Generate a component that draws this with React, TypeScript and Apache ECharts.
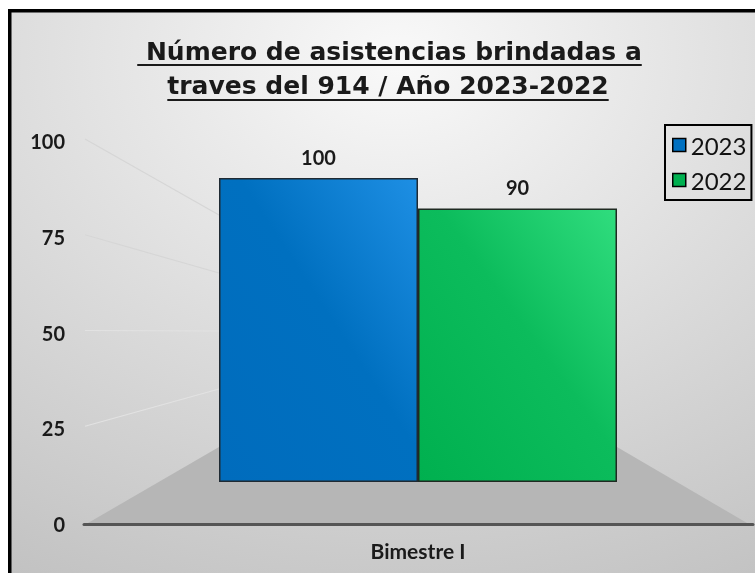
import React, { useEffect, useRef } from 'react';
import * as echarts from 'echarts';

const categories = ['Bimestre I'];
const seriesNames = ['2023', '2022'];
const values2023 = [100];
const values2022 = [90];
const yTicks = [0, 25, 50, 75, 100];
const titleLines = [' Número de asistencias brindadas a', 'traves del 914 / Año 2023-2022'];

const W = 755;
const H = 573;
const FONT = 'Lato, "Open Sans", sans-serif';
const TITLE_FONT_FAMILY = '"DejaVu Sans", Lato, sans-serif';

// geometry
const AX_LEFT = 84;
const AX_RIGHT = 753;
const AX_TOP = 141;
const AX_BOTTOM = 524;
const BAR_LEFT = 219;
const BAR_RIGHT = 617;
const BAR_TOP = 178;
const BAR_BOTTOM = 482;
const FLOOR_BACK = 447;
const SIDE_TOP = 215;

function measure(text: string, font: string): number {
  const c = document.createElement('canvas');
  const ctx = c.getContext('2d');
  if (!ctx) return text.length * 14;
  ctx.font = font;
  return ctx.measureText(text).width;
}

export default function App() {
  const ref = useRef<HTMLDivElement>(null);
  useEffect(() => {
    if (!ref.current) return;
    const chart = echarts.init(ref.current, undefined, { renderer: 'svg' });
    const yMax = yTicks[yTicks.length - 1];
    const frontY = (v: number) => AX_BOTTOM - (v / yMax) * (AX_BOTTOM - AX_TOP);
    const sideY = (v: number) => FLOOR_BACK - (v / yMax) * (FLOOR_BACK - SIDE_TOP);

    const titleFont = `bold 25px ${TITLE_FONT_FAMILY}`;
    const titleCenters = [389.5, 388];
    const titleYs = [51, 85];
    const underlineYs = [65, 100];

    const graphics: any[] = [
      {
        type: 'rect', z: -100, silent: true,
        shape: { x: 9.75, y: 10.75, width: W + 20, height: H + 20 },
        style: {
          fill: new echarts.graphic.RadialGradient(0.5, 0.08, 1.0, [
            { offset: 0, color: '#f9f9f9' },
            { offset: 0.5, color: '#dddddd' },
            { offset: 1, color: '#c2c2c2' },
          ]),
          stroke: '#000', lineWidth: 3.5,
        },
      },
      {
        type: 'polygon', z: -50, silent: true,
        shape: { points: [[AX_LEFT + 4, AX_BOTTOM - 1], [BAR_LEFT, FLOOR_BACK], [BAR_RIGHT, FLOOR_BACK], [AX_RIGHT - 6, AX_BOTTOM - 1]] },
        style: { fill: '#b6b6b6' },
      },
    ];
    yTicks.filter((v) => v > 0).forEach((v) => {
      graphics.push({
        type: 'line', z: -40, silent: true,
        shape: { x1: AX_LEFT + 1, y1: frontY(v) - 2, x2: BAR_LEFT, y2: sideY(v) },
        style: { stroke: v >= 75 ? '#d6d6d6' : '#e2e2e2', lineWidth: 1.2 },
      });
    });
    titleLines.forEach((t, i) => {
      const w = measure(t, titleFont);
      graphics.push({
        type: 'text', z: 100,
        style: {
          text: t, x: titleCenters[i], y: titleYs[i], font: titleFont,
          textAlign: 'center', textVerticalAlign: 'middle', fill: '#1a1a1a',
        },
      });
      graphics.push({
        type: 'line', z: 100, silent: true,
        shape: { x1: titleCenters[i] - w / 2, y1: underlineYs[i], x2: titleCenters[i] + w / 2, y2: underlineYs[i] },
        style: { stroke: '#1a1a1a', lineWidth: 2 },
      });
    });

    const blue = new echarts.graphic.LinearGradient(0, 1, 1, 0, [
      { offset: 0, color: '#006cbd' },
      { offset: 0.55, color: '#0070c0' },
      { offset: 1, color: '#1e8fe4' },
    ]);
    const green = new echarts.graphic.LinearGradient(0, 1, 1, 0, [
      { offset: 0, color: '#00b04f' },
      { offset: 0.55, color: '#0cbc5c' },
      { offset: 1, color: '#30dd7e' },
    ]);
    const labelStyle = {
      show: true, position: 'top', distance: 11, fontSize: 20, fontWeight: 'bold',
      color: '#1a1a1a', fontFamily: FONT,
    };

    chart.setOption({
      animation: false,
      graphic: graphics,
      grid: [
        { left: AX_LEFT, right: W - AX_RIGHT, top: AX_TOP, bottom: H - AX_BOTTOM },
        { left: BAR_LEFT, right: W - BAR_RIGHT, top: BAR_TOP, bottom: H - BAR_BOTTOM },
      ],
      legend: {
        orient: 'vertical', left: 665, top: 125,
        padding: [8, 5, 8, 7], itemGap: 11, itemWidth: 13, itemHeight: 13,
        borderColor: '#000', borderWidth: 2, icon: 'rect',
        textStyle: { fontSize: 24, fontFamily: FONT, color: '#111', lineHeight: 24 },
        itemStyle: { borderColor: '#000', borderWidth: 1.5 },
        data: [
          { name: seriesNames[0], itemStyle: { color: '#0070c0' } },
          { name: seriesNames[1], itemStyle: { color: '#00b050' } },
        ],
      },
      xAxis: [
        {
          type: 'category', gridIndex: 0, data: categories,
          axisLine: { show: true, lineStyle: { color: '#555', width: 3 } },
          axisTick: { show: false }, axisLabel: { show: false },
        },
        {
          type: 'category', gridIndex: 1, data: categories,
          axisLine: { show: false }, axisTick: { show: false },
          axisLabel: { show: true, margin: 58, fontSize: 21, fontWeight: 'bold', color: '#1a1a1a', fontFamily: FONT },
        },
      ],
      yAxis: [
        {
          type: 'value', gridIndex: 0, min: 0, max: yMax, interval: 25,
          axisLine: { show: false }, axisTick: { show: false }, splitLine: { show: false },
          axisLabel: { margin: 19, fontSize: 20, fontWeight: 'bold', color: '#1a1a1a', fontFamily: FONT },
        },
        { type: 'value', gridIndex: 1, min: 0, max: yMax, show: false, splitLine: { show: false } },
      ],
      series: [
        {
          type: 'bar', name: seriesNames[0], xAxisIndex: 1, yAxisIndex: 1, data: values2023,
          barGap: '0%', barCategoryGap: '0%',
          itemStyle: { color: blue, borderColor: '#1f2a33', borderWidth: 1.5 },
          label: labelStyle,
        },
        {
          type: 'bar', name: seriesNames[1], xAxisIndex: 1, yAxisIndex: 1, data: values2022,
          barGap: '0%', barCategoryGap: '0%',
          itemStyle: { color: green, borderColor: '#1f2a22', borderWidth: 1.5 },
          label: labelStyle,
        },
      ],
    });
    return () => chart.dispose();
  }, []);
  return <div ref={ref} style={{ position: 'fixed', left: 0, top: 0, width: W, height: H }} />;
}
